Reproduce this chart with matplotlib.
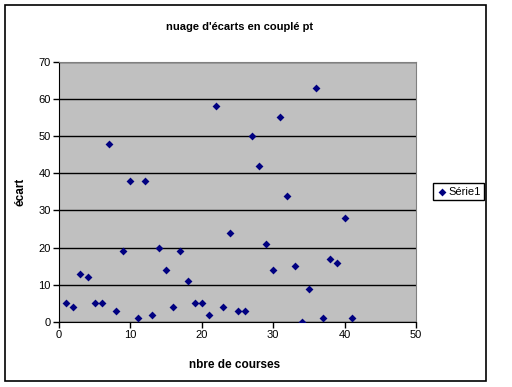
import numpy as np
import matplotlib
matplotlib.use("Agg")
import matplotlib.pyplot as plt
from matplotlib.patches import Rectangle

plt.rcParams['font.family'] = ['Liberation Sans', 'DejaVu Sans']

# data
courses = list(range(1, 42))
ecarts = [5, 4, 13, 12, 5, 5, 48, 3, 19, 38,
          1, 38, 2, 20, 14, 4, 19, 11, 5, 5,
          2, 58, 4, 24, 3, 3, 50, 42, 21, 14,
          55, 34, 15, 0, 9, 63, 1, 17, 16, 28,
          1]
titre = "nuage d'écarts en couplé pt"
label_x = "nbre de courses"
label_y = "écart"
serie = "Série1"

fig = plt.figure(figsize=(5.12, 3.87), dpi=100)
W, H = 512, 387

# outer chart frame
fig.patches.append(Rectangle((5 / W, 1 - 381 / H), 481 / W, 376 / H,
                             transform=fig.transFigure, fill=False,
                             edgecolor='black', lw=1.2))

ax = fig.add_axes([59 / W, 1 - 322 / H, 357 / W, 260.3 / H])
ax.set_facecolor('#c0c0c0')

pts = ax.scatter(courses, ecarts, marker='D', s=16, color='#000080',
                 linewidths=0, zorder=3, label=serie)

ax.set_xlim(0, 50)
ax.set_ylim(0, 70)
ax.set_xticks(np.arange(0, 51, 10))
ax.set_yticks(np.arange(0, 71, 10))
ax.yaxis.grid(True, color='black', lw=1)
ax.set_axisbelow(True)
ax.tick_params(direction='out', length=4, width=1, labelsize=8, pad=2)

for side in ['top', 'right']:
    ax.spines[side].set_color('#808080')
for side in ['left', 'bottom']:
    ax.spines[side].set_color('black')

ax.set_xlabel(label_x, fontsize=8.5, fontweight='bold')
ax.set_ylabel(label_y, fontsize=8.5, fontweight='bold')
ax.xaxis.set_label_coords(0.493, -0.142)
ax.yaxis.set_label_coords(-0.09, 0.5)

fig.text(240 / W, 1 - 27 / H, titre, ha='center', va='center',
         fontsize=8, fontweight='bold')

leg = fig.legend(handles=[pts], labels=[serie], loc='center left',
                 bbox_to_anchor=(433 / W, 1 - 191.5 / H), fontsize=8,
                 frameon=True, fancybox=False, edgecolor='black',
                 framealpha=1, borderpad=0.3, handletextpad=0.1,
                 handlelength=1.0, borderaxespad=0)
leg.get_frame().set_linewidth(1)

fig.savefig('out.png', dpi=100)
